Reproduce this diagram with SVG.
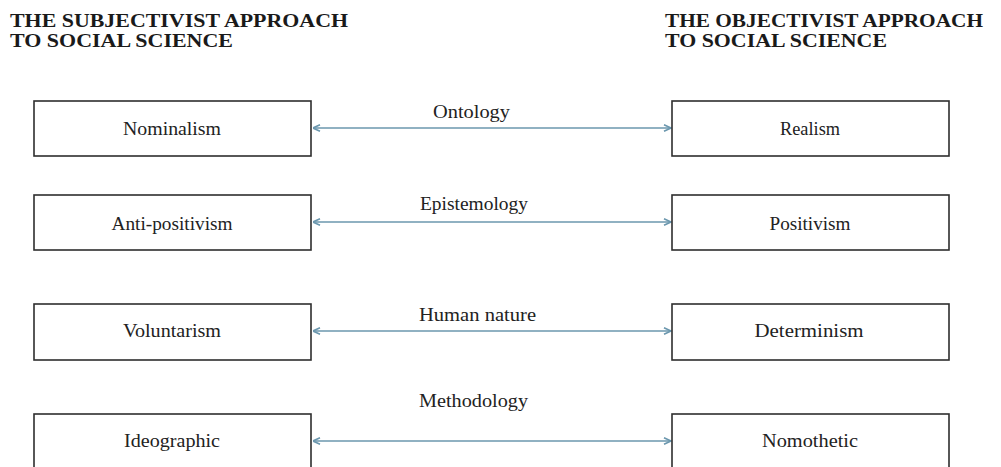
<svg xmlns="http://www.w3.org/2000/svg" width="1001" height="467" viewBox="0 0 1001 467">
  <style>
    .title { font-family: "Liberation Serif", "Times New Roman", serif; font-weight: bold; font-size: 18px; fill: #1a1a1a; }
    .box { fill: #ffffff; stroke: #2e2e2e; stroke-width: 1.6; }
    .term { font-family: "Liberation Serif", "Times New Roman", serif; font-size: 19px; fill: #222222; text-anchor: middle; }
    .dim { font-family: "Liberation Serif", "Times New Roman", serif; font-size: 19px; fill: #222222; }
    .link { stroke: #6b97ae; stroke-width: 1.5; fill: none; marker-start: url(#headL); marker-end: url(#headR); }
  </style>
  <defs>
    <marker id="headR" markerWidth="10" markerHeight="10" refX="8" refY="4" orient="0" markerUnits="userSpaceOnUse">
      <path d="M1,0.8 L8,4 L1,7.2" fill="none" stroke="#6b97ae" stroke-width="1.6"/>
    </marker>
    <marker id="headL" markerWidth="10" markerHeight="10" refX="0" refY="4" orient="0" markerUnits="userSpaceOnUse">
      <path d="M7,0.8 L0,4 L7,7.2" fill="none" stroke="#6b97ae" stroke-width="1.6"/>
    </marker>
  </defs>

  <rect width="1001" height="467" fill="#ffffff"/>

  <!-- column headings -->
  <g id="heading-subjectivist">
    <text class="title" x="10" y="27" textLength="338" lengthAdjust="spacingAndGlyphs">THE SUBJECTIVIST  APPROACH</text>
    <text class="title" x="10" y="47" textLength="223" lengthAdjust="spacingAndGlyphs">TO SOCIAL SCIENCE</text>
  </g>
  <g id="heading-objectivist">
    <text class="title" x="665" y="27" textLength="318" lengthAdjust="spacingAndGlyphs">THE OBJECTIVIST APPROACH</text>
    <text class="title" x="665" y="47" textLength="222" lengthAdjust="spacingAndGlyphs">TO SOCIAL SCIENCE</text>
  </g>

  <!-- connectors with dimension labels -->
  <g id="connectors">
    <line class="link" x1="313" y1="128" x2="671" y2="128"/>
    <line class="link" x1="313" y1="222" x2="671" y2="222"/>
    <line class="link" x1="313" y1="331" x2="671" y2="331"/>
    <line class="link" x1="313" y1="441" x2="671" y2="441"/>
    <text class="dim" x="433" y="118" textLength="77" lengthAdjust="spacingAndGlyphs">Ontology</text>
    <text class="dim" x="420" y="210" textLength="108" lengthAdjust="spacingAndGlyphs">Epistemology</text>
    <text class="dim" x="419" y="321" textLength="117" lengthAdjust="spacingAndGlyphs">Human nature</text>
    <text class="dim" x="419" y="407" textLength="109" lengthAdjust="spacingAndGlyphs">Methodology</text>
  </g>

  <!-- subjectivist side -->
  <g id="nominalism">
    <rect class="box" x="34" y="101" width="277" height="55"/>
    <text class="term" x="172" y="135" textLength="98" lengthAdjust="spacingAndGlyphs">Nominalism</text>
  </g>
  <g id="anti-positivism">
    <rect class="box" x="34" y="195" width="277" height="55"/>
    <text class="term" x="172" y="230" textLength="121" lengthAdjust="spacingAndGlyphs">Anti-positivism</text>
  </g>
  <g id="voluntarism">
    <rect class="box" x="34" y="304" width="277" height="56"/>
    <text class="term" x="172" y="337" textLength="98" lengthAdjust="spacingAndGlyphs">Voluntarism</text>
  </g>
  <g id="ideographic">
    <rect class="box" x="34" y="414" width="277" height="56"/>
    <text class="term" x="172" y="447" textLength="96" lengthAdjust="spacingAndGlyphs">Ideographic</text>
  </g>

  <!-- objectivist side -->
  <g id="realism">
    <rect class="box" x="672" y="101" width="277" height="55"/>
    <text class="term" x="810" y="135" textLength="60" lengthAdjust="spacingAndGlyphs">Realism</text>
  </g>
  <g id="positivism">
    <rect class="box" x="672" y="195" width="277" height="55"/>
    <text class="term" x="810" y="230" textLength="81" lengthAdjust="spacingAndGlyphs">Positivism</text>
  </g>
  <g id="determinism">
    <rect class="box" x="672" y="304" width="277" height="56"/>
    <text class="term" x="809" y="337" textLength="109" lengthAdjust="spacingAndGlyphs">Determinism</text>
  </g>
  <g id="nomothetic">
    <rect class="box" x="672" y="414" width="277" height="56"/>
    <text class="term" x="810" y="447" textLength="96" lengthAdjust="spacingAndGlyphs">Nomothetic</text>
  </g>
</svg>
